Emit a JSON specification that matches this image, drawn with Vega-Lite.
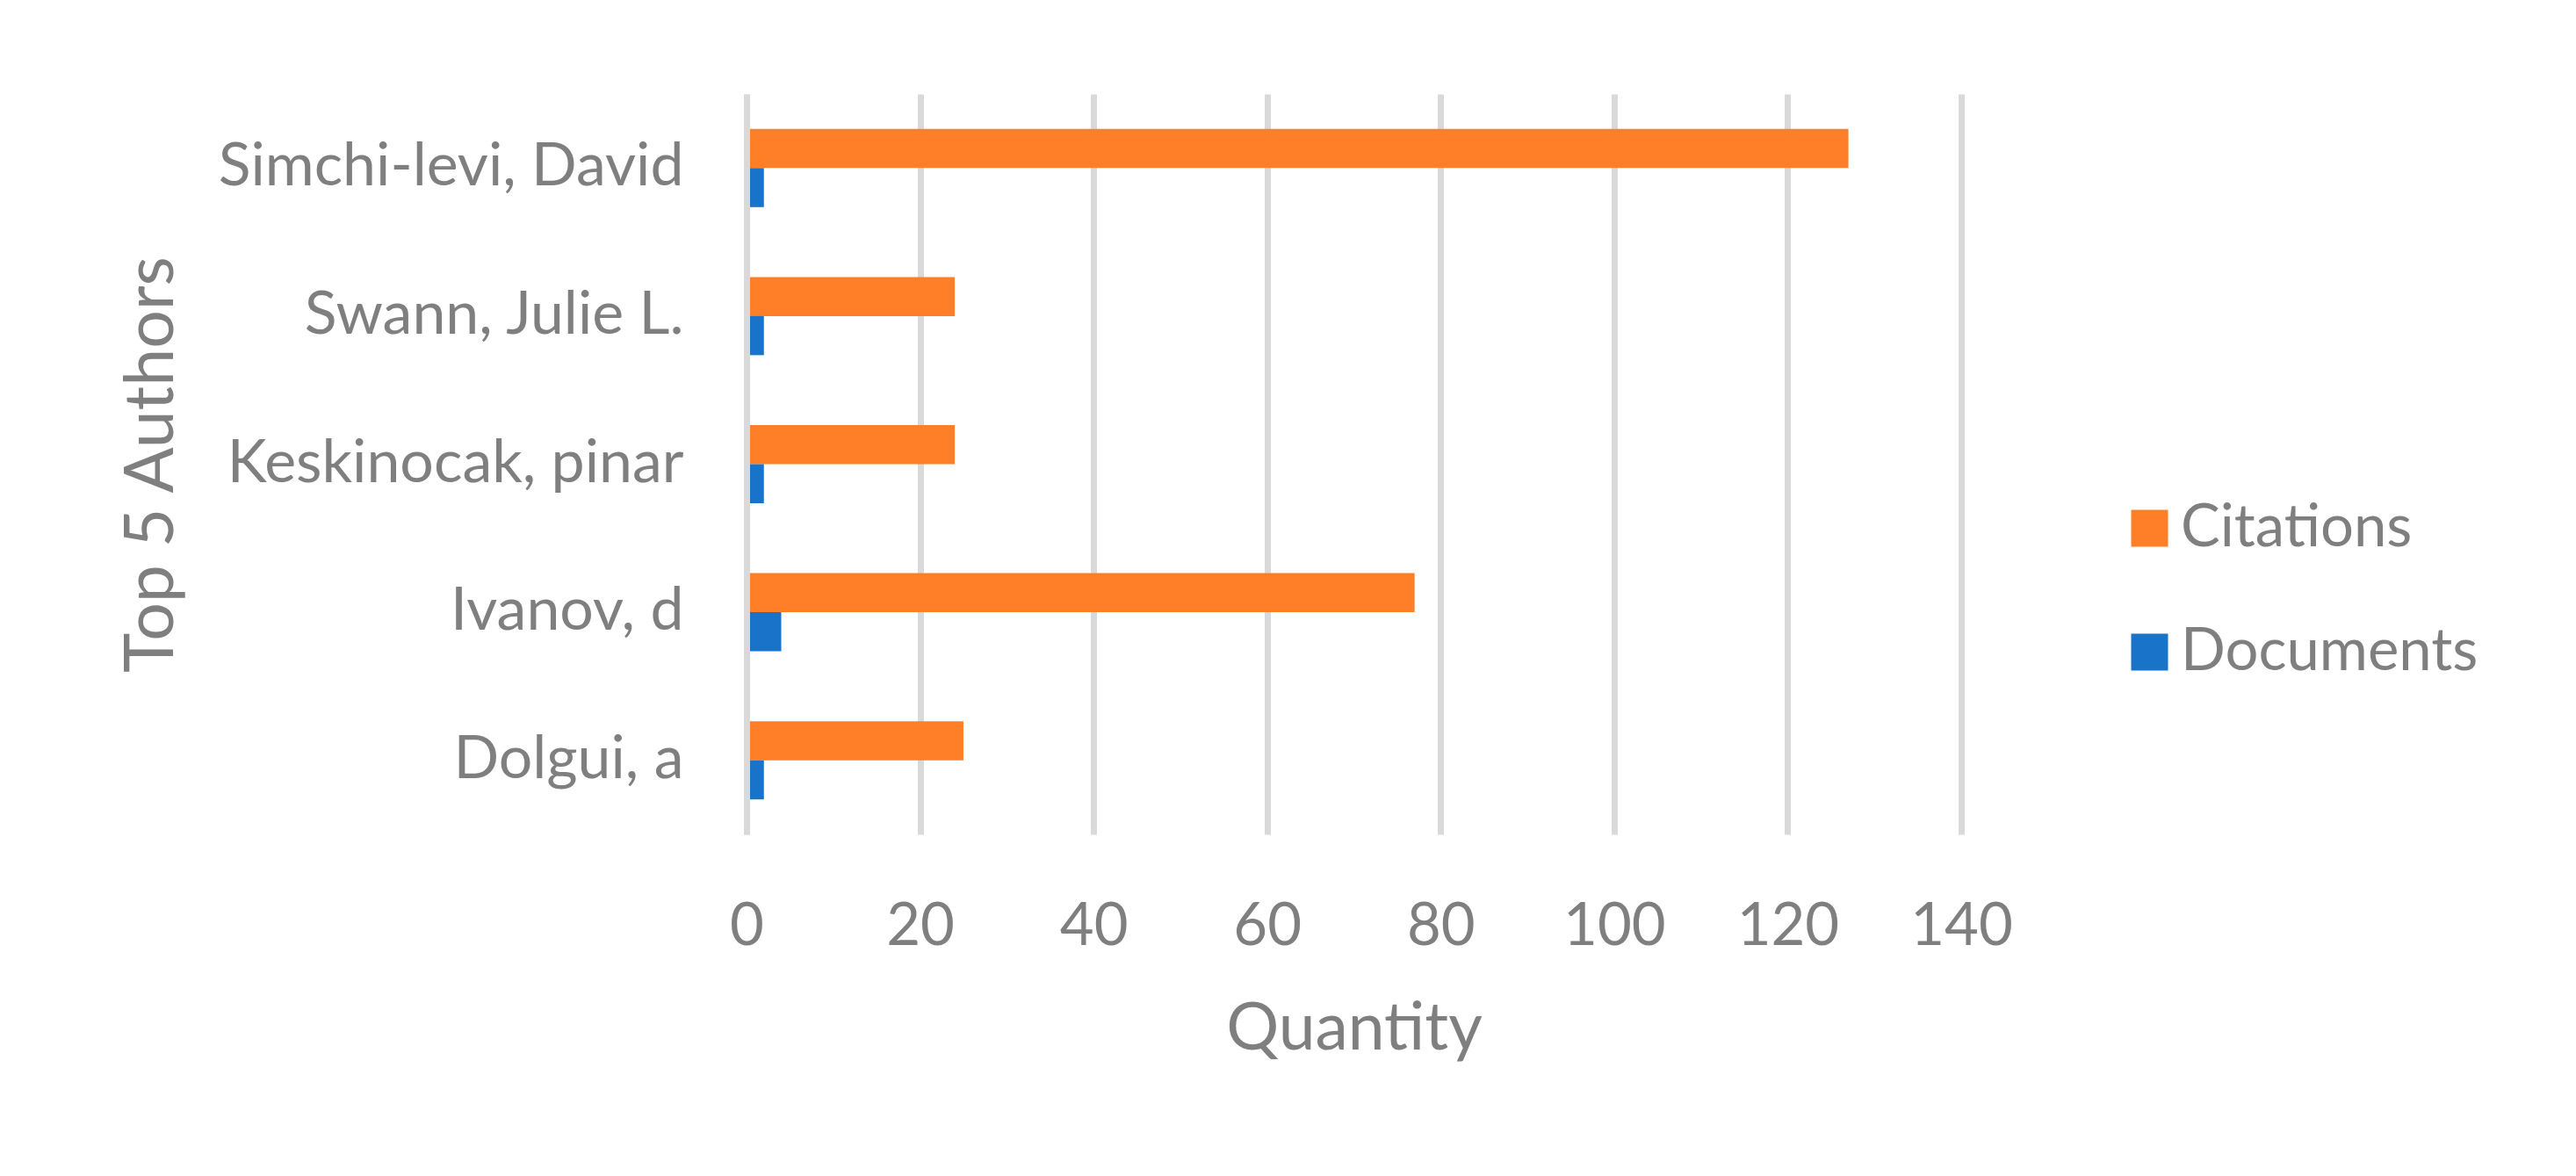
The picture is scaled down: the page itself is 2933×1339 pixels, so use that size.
{
  "$schema": "https://vega.github.io/schema/vega-lite/v6.json",
  "autosize": {"type": "none"},
  "padding": {"left": 850, "top": 107, "right": 700, "bottom": 389},
  "width": 1383,
  "height": 843,
  "background": "white",
  "data": {
    "values": [
      {"author": "Simchi-levi, David", "series": "Citations", "value": 127},
      {"author": "Simchi-levi, David", "series": "Documents", "value": 2},
      {"author": "Swann, Julie L.", "series": "Citations", "value": 24},
      {"author": "Swann, Julie L.", "series": "Documents", "value": 2},
      {"author": "Keskinocak, pinar", "series": "Citations", "value": 24},
      {"author": "Keskinocak, pinar", "series": "Documents", "value": 2},
      {"author": "Ivanov, d", "series": "Citations", "value": 77},
      {"author": "Ivanov, d", "series": "Documents", "value": 4},
      {"author": "Dolgui, a", "series": "Citations", "value": 25},
      {"author": "Dolgui, a", "series": "Documents", "value": 2}
    ]
  },
  "mark": {"type": "bar"},
  "encoding": {
    "y": {
      "field": "author",
      "type": "nominal",
      "sort": ["Simchi-levi, David", "Swann, Julie L.", "Keskinocak, pinar", "Ivanov, d", "Dolgui, a"],
      "scale": {"paddingInner": 0.472, "paddingOuter": 0.236},
      "axis": {
        "title": "Top 5 Authors",
        "ticks": false,
        "domain": true,
        "domainColor": "#d9d9d9",
        "domainWidth": 7,
        "zindex": 1,
        "labelFont": "Lato",
        "labelFontSize": 68,
        "labelColor": "#7f7f7f",
        "labelPadding": 72,
        "labelLimit": 0,
        "titleFont": "Lato",
        "titleFontSize": 77,
        "titleFontWeight": "normal",
        "titleColor": "#7f7f7f",
        "titleAngle": -90,
        "titleX": -654,
        "titleY": 421.5,
        "titleAlign": "center",
        "titleBaseline": "alphabetic",
        "titleLimit": 0
      }
    },
    "yOffset": {
      "field": "series",
      "type": "nominal",
      "sort": ["Citations", "Documents"],
      "scale": {"paddingInner": 0, "paddingOuter": 0}
    },
    "x": {
      "field": "value",
      "type": "quantitative",
      "scale": {"domain": [0, 140], "nice": false},
      "axis": {
        "title": "Quantity",
        "values": [0, 20, 40, 60, 80, 100, 120, 140],
        "domain": false,
        "ticks": false,
        "grid": true,
        "gridColor": "#d9d9d9",
        "gridWidth": 7,
        "labelFont": "Lato",
        "labelFontSize": 67,
        "labelColor": "#7f7f7f",
        "labelPadding": 72,
        "labelFlush": false,
        "labelOverlap": false,
        "labelLimit": 0,
        "titleFont": "Lato",
        "titleFontSize": 75,
        "titleFontWeight": "normal",
        "titleColor": "#7f7f7f",
        "titleX": 691.5,
        "titleY": 244,
        "titleAlign": "center",
        "titleBaseline": "alphabetic"
      }
    },
    "color": {
      "field": "series",
      "type": "nominal",
      "scale": {"domain": ["Citations", "Documents"], "range": ["#fe7f27", "#1873c9"]},
      "legend": {
        "title": null,
        "orient": "none",
        "legendX": 1564,
        "legendY": 461,
        "padding": 0,
        "symbolType": "square",
        "symbolSize": 1764,
        "symbolStrokeWidth": 0,
        "labelFont": "Lato",
        "labelFontSize": 67,
        "labelColor": "#7f7f7f",
        "labelOffset": 2,
        "labelLimit": 0,
        "rowPadding": 73
      }
    }
  },
  "config": {
    "view": {"stroke": null}
  }
}
